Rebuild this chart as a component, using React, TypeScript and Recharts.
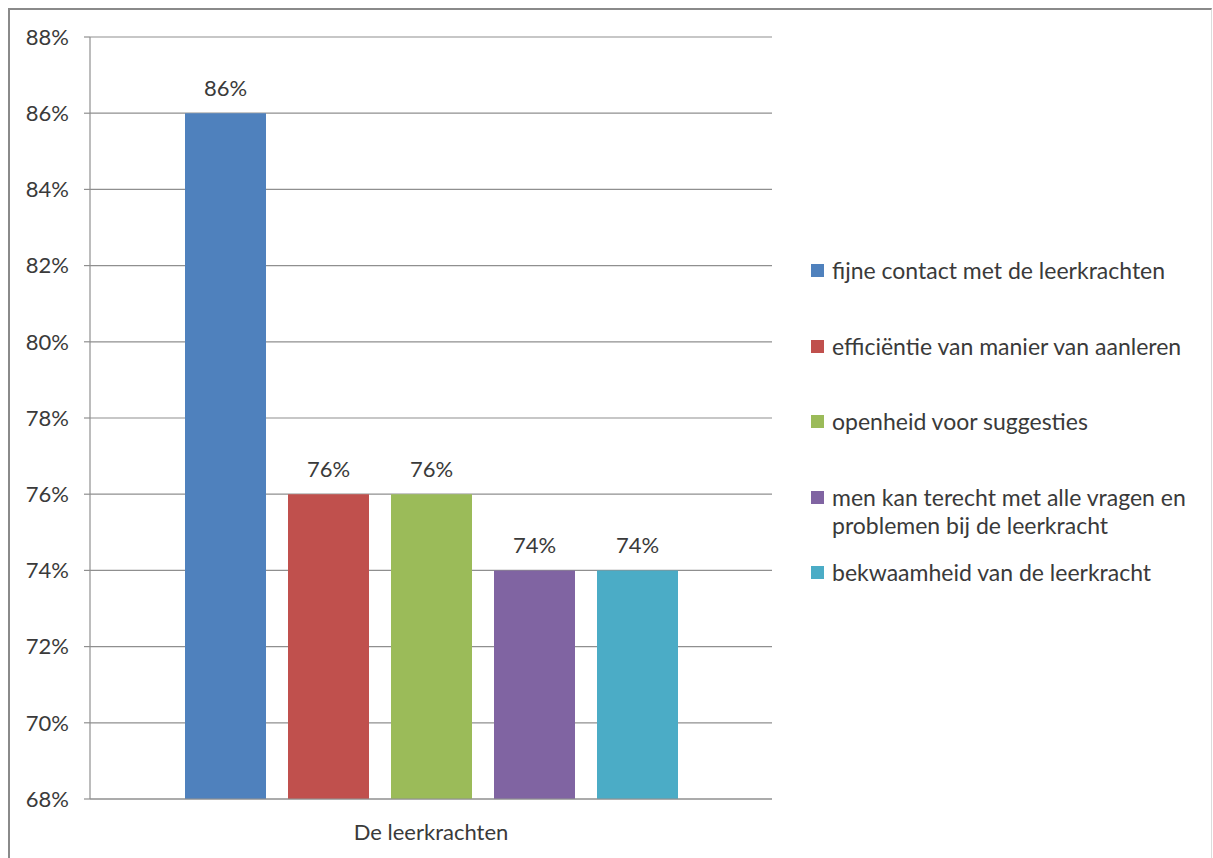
import React from "react";
import {
  BarChart,
  Bar,
  XAxis,
  YAxis,
  CartesianGrid,
  Legend,
  LabelList,
} from "recharts";

const categories = ["De leerkrachten"];
const seriesNames = [
  "fijne contact met de leerkrachten",
  "efficiëntie van manier van aanleren",
  "openheid voor suggesties",
  "men kan terecht met alle vragen en problemen bij de leerkracht",
  "bekwaamheid van de leerkracht",
];
const seriesValues = [86, 76, 76, 74, 74];
const seriesColors = ["#4F81BD", "#C0504D", "#9BBB59", "#8064A2", "#4BACC6"];
const yTicks = [68, 70, 72, 74, 76, 78, 80, 82, 84, 86, 88];

const data = categories.map((name) => {
  const row: Record<string, string | number> = { name };
  seriesNames.forEach((s, i) => {
    row["s" + i] = seriesValues[i];
  });
  return row;
});

const FONT = "Lato, 'Open Sans', sans-serif";
const TEXT = "#3a3a3a";
const GRID = "#8f8f8f";

const pct = (v: number) => `${v}%`;

function LegendBox(props: any) {
  // keep the series order, not the alphabetical one
  const payload = [...(props.payload || [])].sort(
    (a: any, b: any) => seriesNames.indexOf(a.value) - seriesNames.indexOf(b.value)
  );
  return (
    <div style={{ fontFamily: FONT, fontSize: 23, color: TEXT, position: "relative" }}>
      {payload.map((p: any, i: number) => (
        <div
          key={p.value}
          style={{
            position: "absolute",
            top: i * 75.5,
            left: 0,
            display: "flex",
            alignItems: "flex-start",
            lineHeight: "28px",
          }}
        >
          <span
            style={{
              width: 13,
              height: 13,
              background: p.color,
              marginTop: 8,
              marginRight: 8,
              flex: "none",
            }}
          />
          <span style={{ maxWidth: 372 }}>{p.value}</span>
        </div>
      ))}
    </div>
  );
}

export default function App() {
  return (
    <div
      style={{
        position: "absolute",
        left: 8,
        top: 8,
        width: 1201,
        height: 850,
        borderTop: "2px solid #8a8a8a",
        borderLeft: "2px solid #8a8a8a",
        borderRight: "1px solid #dcdcdc",
        background: "#fff",
      }}
    >
      <BarChart
        width={1200}
        height={848}
        data={data}
        margin={{ top: 27, right: 438, bottom: 17, left: 0 }}
        barGap={22}
        barSize={81}
      >
        <CartesianGrid vertical={false} stroke={GRID} strokeWidth={1.2} />
        <XAxis
          dataKey="name"
          tickLine={false}
          tickSize={0}
          tickMargin={25}
          height={42}
          axisLine={{ stroke: GRID, strokeWidth: 1.2 }}
          tick={{ fill: TEXT, fontSize: 22, fontFamily: FONT }}
        />
        <YAxis
          domain={[68, 88]}
          ticks={yTicks}
          allowDataOverflow
          width={80}
          tickSize={6}
          tickMargin={15}
          tickFormatter={pct}
          axisLine={{ stroke: GRID, strokeWidth: 1.2 }}
          tickLine={{ stroke: GRID, strokeWidth: 1.2 }}
          tick={{ fill: TEXT, fontSize: 22, fontFamily: FONT }}
        />
        <Legend
          layout="vertical"
          align="center"
          verticalAlign="middle"
          wrapperStyle={{ left: 801, top: 246, width: 395, height: 360 }}
          content={<LegendBox />}
        />
        {seriesNames.map((s, i) => (
          <Bar
            key={s}
            dataKey={"s" + i}
            name={s}
            fill={seriesColors[i]}
            isAnimationActive={false}
          >
            <LabelList
              dataKey={"s" + i}
              position="top"
              offset={17}
              formatter={(v: any) => pct(v)}
              style={{ fill: TEXT, fontSize: 22, fontFamily: FONT }}
            />
          </Bar>
        ))}
      </BarChart>
    </div>
  );
}
